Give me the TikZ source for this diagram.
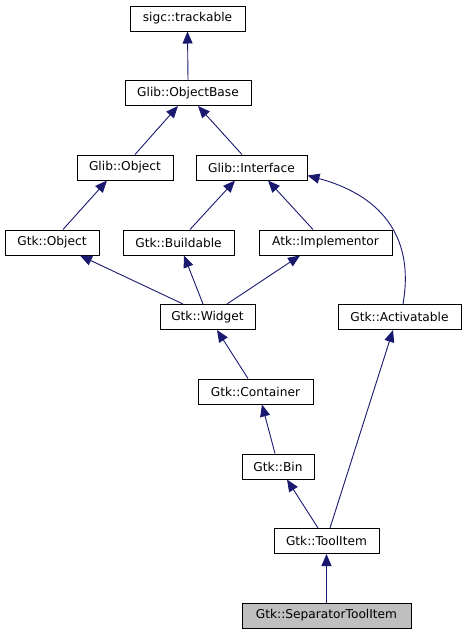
\documentclass[tikz,border=0pt]{standalone}
\usepackage{fontspec}
\setmainfont{DejaVu Sans}
\usetikzlibrary{arrows.meta}
\definecolor{edgeblue}{HTML}{191970}
\definecolor{boxgrey}{HTML}{BFBFBF}
\begin{document}
\begin{tikzpicture}[x=1pt, y=-1pt, class node/.style={rectangle,draw=black,line width=1pt,minimum height=25pt,inner sep=0pt,font=\fontsize{12.2}{14}\selectfont},
  this node/.style={class node,fill=boxgrey},
  inherit/.style={draw=edgeblue,line width=0.9pt,-{Triangle[length=12pt,width=10pt]}}]
\useasboundingbox (0,0) rectangle (467,635);
\begin{scope}
\node [class node,minimum width=115pt](track) at (187.5,18.5) {sigc::trackable};
\node [class node,minimum width=126pt](objbase) at (188,93) {Glib::ObjectBase};
\node [class node,minimum width=96pt](gobject) at (125,167.5) {Glib::Object};
\node [class node,minimum width=111pt](iface) at (251.5,167.5) {Glib::Interface};
\node [class node,minimum width=94pt](gtkobject) at (52,242.5) {Gtk::Object};
\node [class node,minimum width=111pt](buildable) at (178.5,242.5) {Gtk::Buildable};
\node [class node,minimum width=133pt](implementor) at (325.5,242.5) {Atk::Implementor};
\node [class node,minimum width=95pt](widget) at (207.5,317) {Gtk::Widget};
\node [class node,minimum width=123pt](activ) at (399.5,317) {Gtk::Activatable};
\node [class node,minimum width=115pt](container) at (255.5,391.5) {Gtk::Container};
\node [class node,minimum width=72pt](bin) at (278,466.5) {Gtk::Bin};
\node [class node,minimum width=105pt](toolitem) at (326.5,541) {Gtk::ToolItem};
\node [this node,minimum width=169pt](septool) at (326.5,615.5) {Gtk::SeparatorToolItem};
\end{scope}
\begin{scope}[every edge/.style={inherit}]
\path
	(objbase.north) edge (track.south)
	([xshift=10pt]gobject.north) edge ([xshift=-10pt]objbase.south)
	([xshift=-9.5pt]iface.north) edge ([xshift=10pt]objbase.south)
	([xshift=11pt]gtkobject.north) edge ([xshift=-18pt]gobject.south)
	([xshift=11.5pt]buildable.north) edge ([xshift=-16.5pt]iface.south)
	([xshift=-12.5pt]implementor.north) edge ([xshift=16.5pt]iface.south)
	([xshift=-24.5pt]widget.north) edge ([xshift=28pt]gtkobject.south)
	([xshift=-4.5pt]widget.north) edge ([xshift=5.5pt]buildable.south)
	([xshift=19.5pt]widget.north) edge ([xshift=-25.5pt]implementor.south)
	([xshift=-7.5pt]container.north) edge ([xshift=9.5pt]widget.south)
	([xshift=-3pt]bin.north) edge ([xshift=6.5pt]container.south)
	([xshift=-8.5pt]toolitem.north) edge ([xshift=9pt]bin.south)
	([xshift=3.5pt]toolitem.north) edge ([xshift=-6.5pt]activ.south)
	(septool.north) edge (toolitem.south)
	([xshift=3.5pt]activ.north) edge[out=80,in=-15,looseness=1.15] ([yshift=-8pt]iface.east)
         ;
\end{scope}
\end{tikzpicture}
\end{document}
